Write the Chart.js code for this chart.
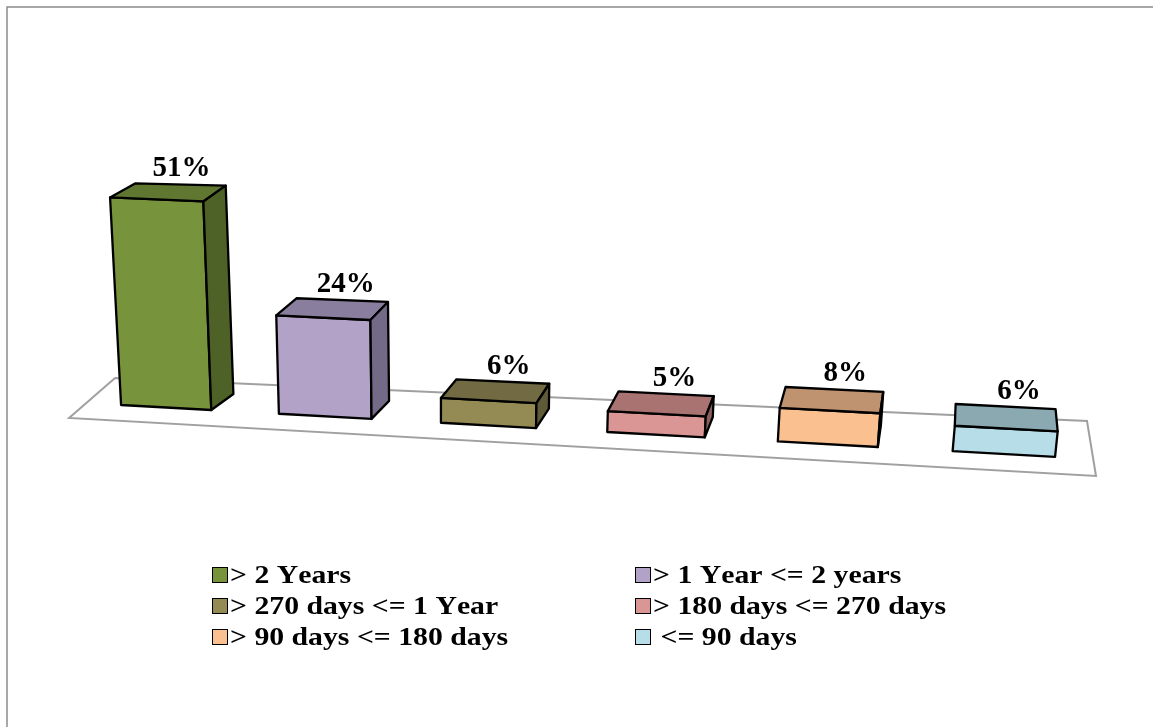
<!DOCTYPE html>
<html>
<head>
<meta charset="utf-8">
<title>Ageing profile</title>
<script src="https://cdn.jsdelivr.net/npm/chart.js@4.4.1/dist/chart.umd.min.js"></script>
<style>
  html, body { margin: 0; padding: 0; background: #ffffff; }
  #wrap { position: relative; width: 1153px; height: 727px; overflow: hidden; }
  #c { position: absolute; left: 0; top: 0; }
  .lg-box { position: absolute; width: 14px; height: 14px; border: 1px solid #000; }
  .lg-text { position: absolute; white-space: pre; color: #000;
             font: bold 25px "Liberation Serif", "Times New Roman", serif; line-height: 25px;
             font-kerning: none;
             transform: scaleX(1.19); transform-origin: 0 0; }
</style>
</head>
<body>
<div id="wrap">
  <canvas id="c" width="1153" height="727"></canvas>
  <div id="legend"></div>
</div>
<script>
// Ageing buckets and their share of the total
const categories = ['> 2 Years', '> 1 Year <= 2 years', '> 270 days <= 1 Year',
                    '> 180 days <= 270 days', '> 90 days <= 180 days', ' <= 90 days'];
const shares = [51, 24, 6, 5, 8, 6];
const valueLabels = ['51%', '24%', '6%', '5%', '8%', '6%'];

// Face colours of each box: front, top (shaded), side (darker)
const frontColors = ['#77933C', '#B3A2C7', '#948A54', '#D99694', '#FAC090', '#B7DEE8'];
const topColors   = ['#5F7731', '#8A7E9F', '#716A43', '#A87371', '#BF9270', '#8BA9B1'];
const sideColors  = ['#4E6227', '#736A88', '#5E5936', '#8C5F5D', '#A27C5D', '#74909A'];

// Perspective settings for the pseudo-3D view
const VIEW = {
  curve: 2.125,      // horizontal spread growing toward the viewer (right side)
  slope: 0.0555,     // tilt of the floor front edge
  vpX: 439,          // vanishing point of the vertical edges
  vpDist: 6000,
  heightGrow: 0.008  // heights grow slightly toward the right
};

function depthVector(x) {
  const dx = 25 - 0.0286 * (x - 110);
  const k = Math.max(0, Math.min(1.2, (x - 156) / 848));
  const dy = -14 - 8 * Math.sqrt(k);
  return [dx, dy];
}

function makeProjector(chart) {
  const xs = chart.scales.x, ys = chart.scales.y;
  const u0 = xs.getPixelForValue(0);
  const w = xs.getPixelForValue(1) - u0;
  const base = ys.getPixelForValue(0);
  const tOf = u => (u - u0) / w;
  const warpX = u => { const t = tOf(u); return u + VIEW.curve * t * t; };
  // front point at horizontal chart position u and height h (px)
  function front(u, h) {
    const t = tOf(u);
    const hs = h * (1 + VIEW.heightGrow * t);
    const xb = warpX(u);
    const yb = base + VIEW.slope * (xb - u0);
    return [xb + (xb - VIEW.vpX) * hs / VIEW.vpDist, yb - hs];
  }
  function back(p) { const d = depthVector(p[0]); return [p[0] + d[0], p[1] + d[1]]; }
  return { front, back, base };
}

function poly(ctx, pts, fill) {
  ctx.beginPath();
  ctx.moveTo(pts[0][0], pts[0][1]);
  for (let i = 1; i < pts.length; i++) ctx.lineTo(pts[i][0], pts[i][1]);
  ctx.closePath();
  ctx.fillStyle = fill;
  ctx.fill();
  ctx.stroke();
}

const frameAndFloor = {
  id: 'frameAndFloor',
  beforeDatasetsDraw(chart) {
    const ctx = chart.ctx, a = chart.chartArea;
    ctx.save();
    // outer frame
    ctx.strokeStyle = '#8C8C8C';
    ctx.lineWidth = 1.5;
    ctx.beginPath();
    ctx.moveTo(7, chart.height);
    ctx.lineTo(7, 7);
    ctx.lineTo(chart.width, 7);
    ctx.stroke();
    // floor outline
    const fl = [a.left - 18.5, a.bottom + 10.5];
    const bl = [a.left + 27.5, a.bottom - 29.5];
    const br = [a.right + 58, a.bottom + 13.5];
    const fr = [a.right + 67, a.bottom + 68.5];
    ctx.strokeStyle = '#A0A0A0';
    ctx.lineWidth = 2;
    ctx.lineJoin = 'miter';
    ctx.beginPath();
    ctx.moveTo(fl[0], fl[1]); ctx.lineTo(bl[0], bl[1]);
    ctx.lineTo(br[0], br[1]); ctx.lineTo(fr[0], fr[1]);
    ctx.closePath();
    ctx.stroke();
    ctx.restore();
  }
};

const boxes3d = {
  id: 'boxes3d',
  afterDatasetsDraw(chart) {
    const ctx = chart.ctx;
    const P = makeProjector(chart);
    const meta = chart.getDatasetMeta(0);
    ctx.save();
    ctx.strokeStyle = '#000';
    ctx.lineWidth = 2.3;
    ctx.lineJoin = 'round';
    meta.data.forEach((bar, i) => {
      const h = P.base - bar.y;
      const uL = bar.x - bar.width / 2, uR = bar.x + bar.width / 2;
      const ftl = P.front(uL, h), ftr = P.front(uR, h);
      const fbl = P.front(uL, 0), fbr = P.front(uR, 0);
      const btl = P.back(ftl), btr = P.back(ftr), bbr = P.back(fbr), bbl = P.back(fbl);
      poly(ctx, [ftl, ftr, fbr, fbl], frontColors[i]);
      poly(ctx, [ftl, ftr, btr, btl], topColors[i]);
      if (btr[0] > ftr[0] + 0.5) poly(ctx, [ftr, btr, bbr, fbr], sideColors[i]);
      else if (btl[0] < ftl[0] - 0.5) poly(ctx, [ftl, btl, bbl, fbl], sideColors[i]);
      // value label above the box
      const cx = (ftl[0] + ftr[0] + btl[0] + btr[0]) / 4 + 13;
      const cy = (btl[1] + btr[1]) / 2 - 8;
      ctx.fillStyle = '#000';
      ctx.font = 'bold 29px "Liberation Serif", "Times New Roman", serif';
      if ('fontKerning' in ctx) ctx.fontKerning = 'none';
      ctx.textAlign = 'center';
      ctx.textBaseline = 'alphabetic';
      ctx.fillText(valueLabels[i], cx, cy);
    });
    ctx.restore();
  }
};

new Chart(document.getElementById('c'), {
  type: 'bar',
  data: {
    labels: categories,
    datasets: [{
      data: shares,
      backgroundColor: 'rgba(0,0,0,0)',
      borderWidth: 0,
      categoryPercentage: 0.575,
      barPercentage: 1
    }]
  },
  options: {
    responsive: false,
    animation: false,
    events: [],
    layout: { padding: { left: 87.55, right: 124, top: 162.7, bottom: 319.5 } },
    scales: {
      x: { display: false, offset: true },
      y: { display: false, min: 0, max: 60 }
    },
    plugins: { legend: { display: false }, tooltip: { enabled: false } }
  },
  plugins: [frameAndFloor, boxes3d]
});

// Two-column legend below the plot
(function buildLegend() {
  const host = document.getElementById('legend');
  const colX = [212, 635], rowY = [567, 598, 629];
  categories.forEach((name, i) => {
    const x = colX[i % 2], y = rowY[Math.floor(i / 2)];
    const box = document.createElement('div');
    box.className = 'lg-box';
    box.style.left = x + 'px';
    box.style.top = y + 'px';
    box.style.background = frontColors[i];
    const txt = document.createElement('div');
    txt.className = 'lg-text';
    txt.style.left = (x + 18) + 'px';
    txt.style.top = (y - 5) + 'px';
    txt.textContent = name;
    host.appendChild(box);
    host.appendChild(txt);
  });
})();
</script>
</body>
</html>
